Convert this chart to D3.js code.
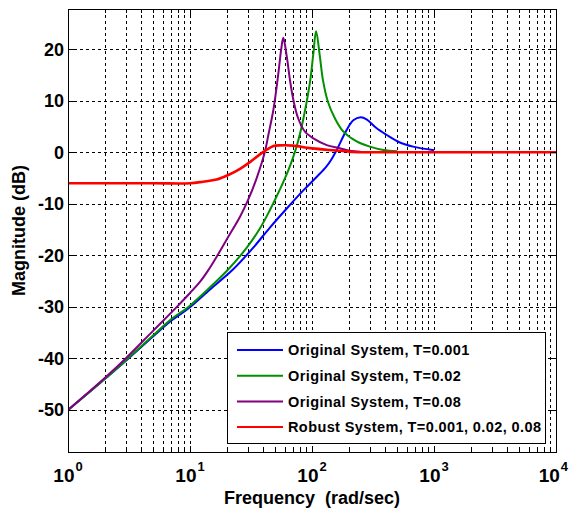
<!DOCTYPE html>
<html>
<head>
<meta charset="utf-8">
<script src="https://cdn.jsdelivr.net/npm/d3@7"></script>
<style>
  html, body { margin: 0; padding: 0; background: #fff; }
  svg { display: block; }
  text { font-family: "Liberation Sans", Arial, sans-serif; }
</style>
</head>
<body>
<svg id="chart" width="569" height="515"></svg>
<script>
// ---------- data ----------
const seriesNames = [
  "Original System, T=0.001",
  "Original System, T=0.02",
  "Original System, T=0.08",
  "Robust System, T=0.001, 0.02, 0.08"
];
const seriesColors = ["#0000ff", "#009100", "#800080", "#ff0000"];

// Blue: Original, T=0.001
const freqBlue = [1, 2, 3, 5, 7, 9.7, 14.6, 22.6, 33, 45.2, 62.1, 84.9, 109, 130, 145, 159, 192, 218, 250, 280, 337, 408, 525, 674, 1000];
const magBlue  = [-50, -44, -40.4, -35.7, -32.7, -30.3, -26.6, -22.7, -18.5, -14.6, -10.9, -7.4, -4.8, -2.9, -1.3, 0.4, 4.3, 6.2, 6.8, 6.4, 4.7, 3.4, 1.9, 1.1, 0.4];

// Green: Original, T=0.02
const freqGreen = [1, 2, 3, 5, 7, 9.7, 14.6, 21, 29.2, 37.4, 45.2, 54.6, 63.7, 70, 77, 85, 96, 102.6, 108, 116, 123, 135, 154, 181, 232, 298, 384, 500];
const magGreen  = [-50, -44, -40.3, -35.5, -32.4, -30, -26.2, -22.5, -18.5, -14.8, -11.2, -7.2, -3.6, -1.0, 2.2, 6.5, 13.4, 19.2, 23.5, 18.6, 14.0, 9.8, 6.6, 4.0, 2.1, 1.1, 0.45, 0.2];

// Purple: Original, T=0.08
const freqPurple = [1, 2, 3, 5, 7.8, 10, 12.1, 14, 16.5, 20, 25.7, 30, 35.2, 41, 44, 48.3, 52.8, 56.3, 58.2, 62.1, 66, 70.3, 77, 87.6, 102.6, 132, 169, 204, 250];
const magPurple  = [-50, -43.8, -39.9, -34.6, -30, -27.3, -25.1, -23.0, -20.3, -16.9, -12.5, -9.2, -5, 0, 3.5, 8.3, 15, 20.5, 22.2, 18.6, 14.0, 10.2, 6.6, 4.0, 2.7, 1.4, 0.8, 0.3, 0.1];

// Red: Robust, T=0.001, 0.02, 0.08
const freqRed = [1, 5, 10, 12.8, 16.5, 21, 25.7, 31, 37.4, 42, 48.3, 55, 70, 96, 132, 192, 218, 300, 1000, 10000];
const magRed  = [-6.0, -6.0, -6.0, -5.7, -5.3, -4.3, -3.2, -1.9, -0.4, 0.4, 1.2, 1.35, 1.3, 0.8, 0.5, 0.2, 0.05, 0, 0, 0];

const yTickValues = [-50, -40, -30, -20, -10, 0, 10, 20];
const xDecades = [1, 10, 100, 1000, 10000];
const xDecadeExponents = ["0", "1", "2", "3", "4"];
const yDomain = [-58.15, 27.8];
const xDomain = [1, 10000];
const xLabel = "Frequency\u00a0\u00a0(rad/sec)";
const yLabel = "Magnitude (dB)";

// ---------- layout ----------
const L = 68, R = 556, T = 9, B = 452;
const svg = d3.select("#chart");

const x = d3.scaleLog().domain(xDomain).range([L, R]);
const y = d3.scaleLinear().domain(yDomain).range([B, T]);

// minor + major log positions
const xAllTicks = [];
for (let d = 0; d < xDecades.length - 1; d++) {
  for (let k = 1; k <= 9; k++) xAllTicks.push(xDecades[d] * k);
}
xAllTicks.push(xDecades[xDecades.length - 1]);
const isMajor = v => xDecades.includes(v);

// ---------- grid ----------
const grid = svg.append("g").attr("stroke", "#000").attr("stroke-width", 1)
  .attr("stroke-dasharray", "3,3").attr("shape-rendering", "crispEdges");
grid.selectAll("line.vx").data(xAllTicks.filter(v => v > xDomain[0] && v < xDomain[1]))
  .enter().append("line")
  .attr("x1", d => Math.round(x(d)) + 0.5).attr("x2", d => Math.round(x(d)) + 0.5)
  .attr("y1", T).attr("y2", B);
grid.selectAll("line.hy").data(yTickValues)
  .enter().append("line")
  .attr("y1", d => Math.round(y(d)) + 0.5).attr("y2", d => Math.round(y(d)) + 0.5)
  .attr("x1", L).attr("x2", R);

// ---------- curves ----------
const series = [
  { f: freqBlue, m: magBlue, c: seriesColors[0], w: 2 },
  { f: freqGreen, m: magGreen, c: seriesColors[1], w: 2 },
  { f: freqPurple, m: magPurple, c: seriesColors[2], w: 2 },
  { f: freqRed, m: magRed, c: seriesColors[3], w: 2.6 }
];
const line = d3.line().x(d => x(d[0])).y(d => y(d[1])).curve(d3.curveCatmullRom.alpha(0.5));
svg.append("defs").append("clipPath").attr("id", "clip")
  .append("rect").attr("x", L).attr("y", T).attr("width", R - L).attr("height", B - T);
const curves = svg.append("g").attr("clip-path", "url(#clip)");
series.forEach(s => {
  curves.append("path")
    .datum(s.f.map((f, i) => [f, s.m[i]]))
    .attr("fill", "none").attr("stroke", s.c).attr("stroke-width", s.w)
    .attr("stroke-linejoin", "round")
    .attr("d", line);
});

// ---------- axes (ticks inside, all four sides) ----------
const axG = svg.append("g").attr("stroke", "#000").attr("stroke-width", 1).attr("shape-rendering", "crispEdges");
xAllTicks.forEach(v => {
  const px = Math.round(x(v)) + 0.5;
  const len = isMajor(v) ? 6 : 3.5;
  axG.append("line").attr("x1", px).attr("x2", px).attr("y1", B).attr("y2", B - len);
  axG.append("line").attr("x1", px).attr("x2", px).attr("y1", T).attr("y2", T + len);
});
yTickValues.forEach(v => {
  const py = Math.round(y(v)) + 0.5;
  axG.append("line").attr("x1", L).attr("x2", L + 6).attr("y1", py).attr("y2", py);
  axG.append("line").attr("x1", R).attr("x2", R - 6).attr("y1", py).attr("y2", py);
});
svg.append("rect").attr("x", L + 0.5).attr("y", T + 0.5).attr("width", R - L).attr("height", B - T)
  .attr("fill", "none").attr("stroke", "#000").attr("stroke-width", 1).attr("shape-rendering", "crispEdges");

// y tick labels
svg.append("g").selectAll("text").data(yTickValues).enter().append("text")
  .attr("x", L - 4).attr("y", d => y(d)).attr("dy", "0.36em")
  .attr("text-anchor", "end").attr("font-size", 18).attr("font-weight", "bold")
  .attr("fill", "#000").text(d => d);

// x tick labels 10^n
xDecades.forEach((v, i) => {
  const last = i === xDecades.length - 1;
  const t = svg.append("text").attr("x", last ? 568 : x(v)).attr("y", 482)
    .attr("text-anchor", last ? "end" : "middle").attr("font-size", 19).attr("font-weight", "bold").attr("fill", "#000");
  t.append("tspan").text("10");
  t.append("tspan").attr("dy", -11).attr("dx", 1).attr("font-size", 13).text(xDecadeExponents[i]);
});

// axis labels
svg.append("text").attr("x", (L + R) / 2).attr("y", 504).attr("text-anchor", "middle")
  .attr("font-size", 18).attr("font-weight", "bold").attr("fill", "#000").text(xLabel);
svg.append("text").attr("transform", `translate(25,${(T + B) / 2}) rotate(-90)`)
  .attr("text-anchor", "middle").attr("font-size", 18).attr("font-weight", "bold")
  .attr("fill", "#000").text(yLabel);

// ---------- legend ----------
const lgX = 227, lgY = 332, lgW = 318, lgH = 111;
const lg = svg.append("g");
lg.append("rect").attr("x", lgX + 0.5).attr("y", lgY + 0.5).attr("width", lgW).attr("height", lgH)
  .attr("fill", "#fff").attr("stroke", "#000").attr("stroke-width", 1).attr("shape-rendering", "crispEdges");
seriesNames.forEach((name, i) => {
  const cy = lgY + 18 + i * 25.7;
  lg.append("line").attr("x1", lgX + 10).attr("x2", lgX + 56).attr("y1", cy).attr("y2", cy)
    .attr("stroke", seriesColors[i]).attr("stroke-width", 2);
  lg.append("text").attr("x", lgX + 61).attr("y", cy).attr("dy", "0.36em")
    .attr("font-size", 14.5).attr("font-weight", "bold").attr("letter-spacing", 0.4)
    .attr("fill", "#000").text(name);
});
</script>
</body>
</html>
